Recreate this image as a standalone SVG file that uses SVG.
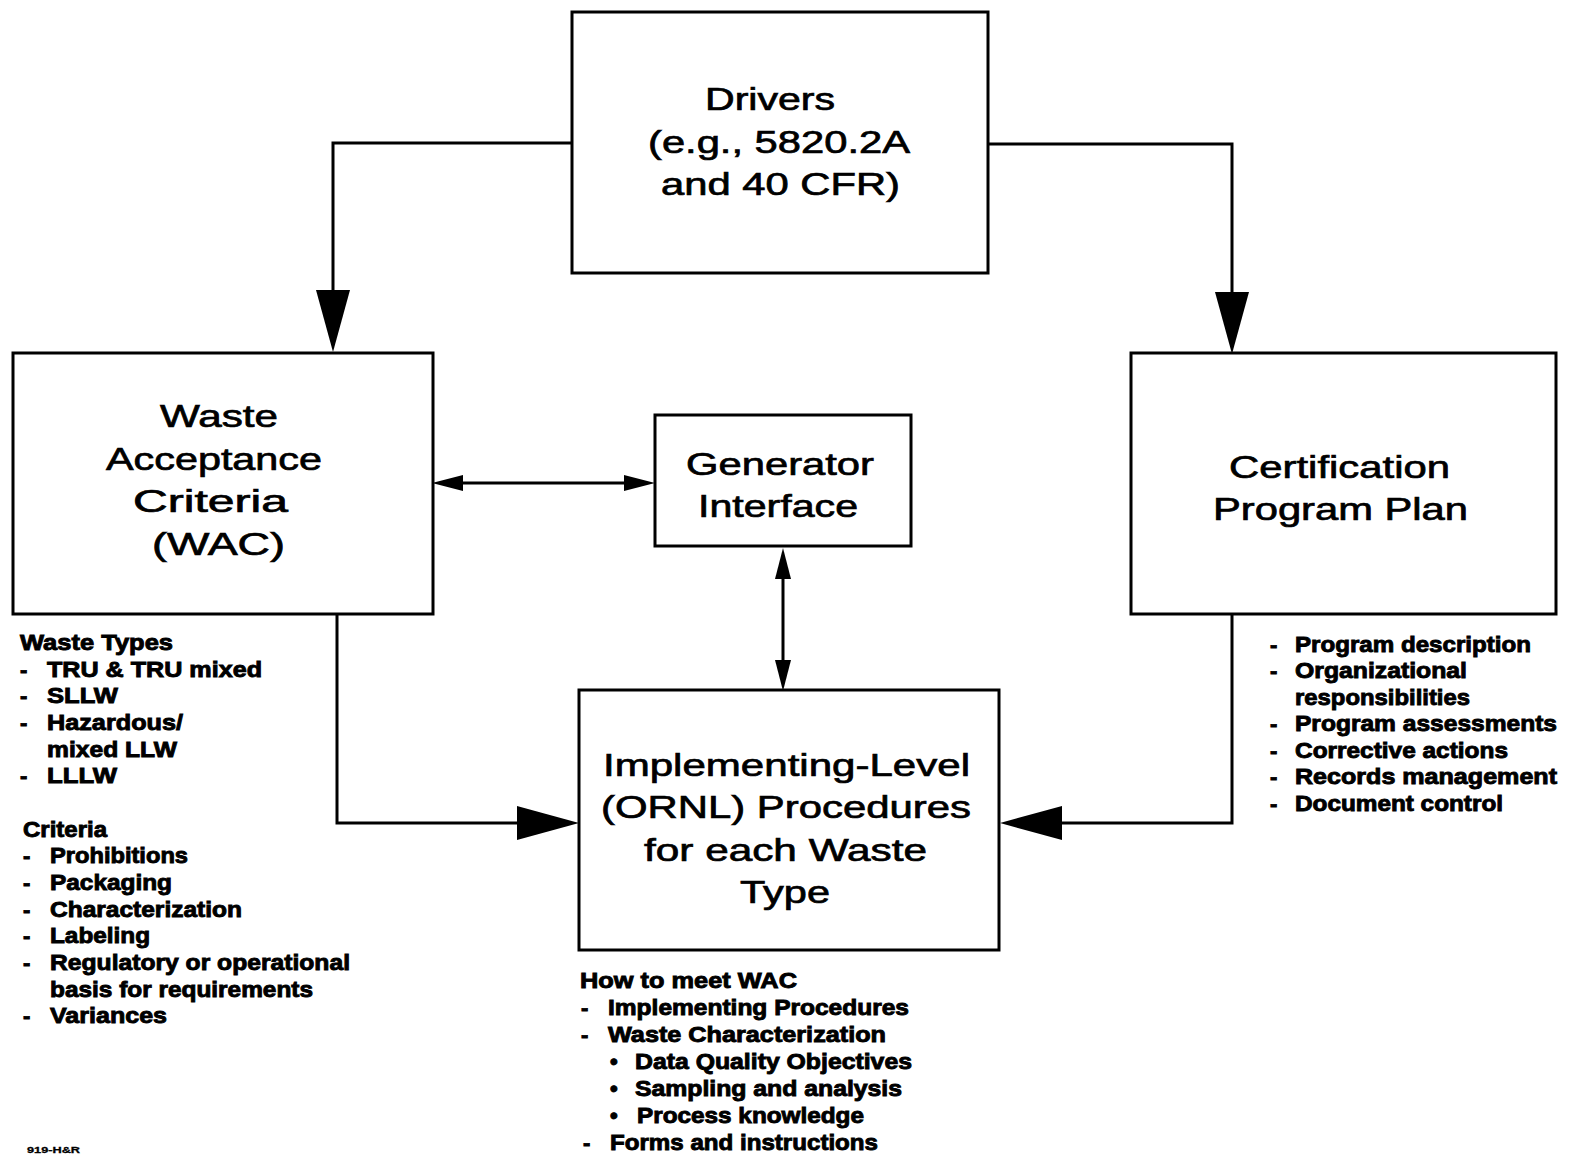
<svg xmlns="http://www.w3.org/2000/svg" width="1573" height="1158" viewBox="0 0 1573 1158">
<defs>
<style>
.box{fill:#fff;stroke:#000;stroke-width:3}
.lbl{font-family:"Liberation Sans",Arial,sans-serif;font-size:32px;fill:#000;stroke:#000;stroke-width:0.7}
.ann{font-family:"Liberation Sans",Arial,sans-serif;font-size:22px;font-weight:bold;fill:#000;stroke:#000;stroke-width:0.9}
.con{fill:none;stroke:#000;stroke-width:3}
.big{marker-end:url(#bigArrow)}
</style>
<marker id="bigArrow" markerUnits="userSpaceOnUse" markerWidth="70" markerHeight="40" refX="0" refY="17" orient="auto-start-reverse" viewBox="0 0 70 40" overflow="visible">
<path d="M0,0 L62,17 L0,34 Z" fill="#000"/>
</marker>
<marker id="smallArrow" markerUnits="userSpaceOnUse" markerWidth="36" markerHeight="20" refX="0" refY="8" orient="auto-start-reverse" viewBox="0 0 36 20" overflow="visible">
<path d="M0,0 L31,8 L0,16 Z" fill="#000"/>
</marker>
</defs>
<rect width="1573" height="1158" fill="#fff"/>

<g id="connectors">
<path class="con big" d="M572,143 H333 V290"/>
<path class="con big" d="M988,144 H1232 V292"/>
<path class="con big" d="M337,614 V823 H517"/>
<path class="con big" d="M1232,614 V823 H1062"/>
<path class="con" d="M463,483 H624" marker-start="url(#smallArrow)" marker-end="url(#smallArrow)"/>
<path class="con" d="M783,579 V660" marker-start="url(#smallArrow)" marker-end="url(#smallArrow)"/>
</g>

<g id="drivers">
<rect class="box" x="572" y="12" width="416" height="261"/>
<text class="lbl" x="705" y="110" textLength="130" lengthAdjust="spacingAndGlyphs">Drivers</text>
<text class="lbl" x="648" y="153" textLength="262" lengthAdjust="spacingAndGlyphs">(e.g., 5820.2A</text>
<text class="lbl" x="661" y="195" textLength="239" lengthAdjust="spacingAndGlyphs">and 40 CFR)</text>
</g>

<g id="wac">
<rect class="box" x="13" y="353" width="420" height="261"/>
<text class="lbl" x="160" y="427" textLength="118" lengthAdjust="spacingAndGlyphs">Waste</text>
<text class="lbl" x="106" y="470" textLength="216" lengthAdjust="spacingAndGlyphs">Acceptance</text>
<text class="lbl" x="133" y="512" textLength="155" lengthAdjust="spacingAndGlyphs">Criteria</text>
<text class="lbl" x="152" y="555" textLength="133" lengthAdjust="spacingAndGlyphs">(WAC)</text>
</g>

<g id="generator">
<rect class="box" x="655" y="415" width="256" height="131"/>
<text class="lbl" x="686" y="475" textLength="188" lengthAdjust="spacingAndGlyphs">Generator</text>
<text class="lbl" x="698" y="517" textLength="160" lengthAdjust="spacingAndGlyphs">Interface</text>
</g>

<g id="certification">
<rect class="box" x="1131" y="353" width="425" height="261"/>
<text class="lbl" x="1229" y="478" textLength="221" lengthAdjust="spacingAndGlyphs">Certification</text>
<text class="lbl" x="1213" y="520" textLength="255" lengthAdjust="spacingAndGlyphs">Program Plan</text>
</g>

<g id="implementing">
<rect class="box" x="579" y="690" width="420" height="260"/>
<text class="lbl" x="603" y="776" textLength="367" lengthAdjust="spacingAndGlyphs">Implementing-Level</text>
<text class="lbl" x="601" y="818" textLength="370" lengthAdjust="spacingAndGlyphs">(ORNL) Procedures</text>
<text class="lbl" x="644" y="861" textLength="283" lengthAdjust="spacingAndGlyphs">for each Waste</text>
<text class="lbl" x="740" y="903" textLength="90" lengthAdjust="spacingAndGlyphs">Type</text>
</g>

<g id="wac-notes">
<text class="ann" x="20" y="650" textLength="153" lengthAdjust="spacingAndGlyphs">Waste Types</text>
<text class="ann" x="20" y="677">-</text><text class="ann" x="47" y="677" textLength="215" lengthAdjust="spacingAndGlyphs">TRU &amp; TRU mixed</text>
<text class="ann" x="20" y="703">-</text><text class="ann" x="47" y="703" textLength="71" lengthAdjust="spacingAndGlyphs">SLLW</text>
<text class="ann" x="20" y="730">-</text><text class="ann" x="47" y="730" textLength="136" lengthAdjust="spacingAndGlyphs">Hazardous/</text>
<text class="ann" x="47" y="757" textLength="130" lengthAdjust="spacingAndGlyphs">mixed LLW</text>
<text class="ann" x="20" y="783">-</text><text class="ann" x="47" y="783" textLength="70" lengthAdjust="spacingAndGlyphs">LLLW</text>
<text class="ann" x="23" y="837" textLength="84" lengthAdjust="spacingAndGlyphs">Criteria</text>
<text class="ann" x="23" y="863">-</text><text class="ann" x="50" y="863" textLength="138" lengthAdjust="spacingAndGlyphs">Prohibitions</text>
<text class="ann" x="23" y="890">-</text><text class="ann" x="50" y="890" textLength="122" lengthAdjust="spacingAndGlyphs">Packaging</text>
<text class="ann" x="23" y="917">-</text><text class="ann" x="50" y="917" textLength="192" lengthAdjust="spacingAndGlyphs">Characterization</text>
<text class="ann" x="23" y="943">-</text><text class="ann" x="50" y="943" textLength="100" lengthAdjust="spacingAndGlyphs">Labeling</text>
<text class="ann" x="23" y="970">-</text><text class="ann" x="50" y="970" textLength="300" lengthAdjust="spacingAndGlyphs">Regulatory or operational</text>
<text class="ann" x="50" y="997" textLength="263" lengthAdjust="spacingAndGlyphs">basis for requirements</text>
<text class="ann" x="23" y="1023">-</text><text class="ann" x="50" y="1023" textLength="117" lengthAdjust="spacingAndGlyphs">Variances</text>
</g>

<g id="cert-notes">
<text class="ann" x="1270" y="652">-</text><text class="ann" x="1295" y="652" textLength="236" lengthAdjust="spacingAndGlyphs">Program description</text>
<text class="ann" x="1270" y="678">-</text><text class="ann" x="1295" y="678" textLength="172" lengthAdjust="spacingAndGlyphs">Organizational</text>
<text class="ann" x="1295" y="705" textLength="175" lengthAdjust="spacingAndGlyphs">responsibilities</text>
<text class="ann" x="1270" y="731">-</text><text class="ann" x="1295" y="731" textLength="262" lengthAdjust="spacingAndGlyphs">Program assessments</text>
<text class="ann" x="1270" y="758">-</text><text class="ann" x="1295" y="758" textLength="213" lengthAdjust="spacingAndGlyphs">Corrective actions</text>
<text class="ann" x="1270" y="784">-</text><text class="ann" x="1295" y="784" textLength="262" lengthAdjust="spacingAndGlyphs">Records management</text>
<text class="ann" x="1270" y="811">-</text><text class="ann" x="1295" y="811" textLength="208" lengthAdjust="spacingAndGlyphs">Document control</text>
</g>

<g id="impl-notes">
<text class="ann" x="580" y="988" textLength="217" lengthAdjust="spacingAndGlyphs">How to meet WAC</text>
<text class="ann" x="581" y="1015">-</text><text class="ann" x="608" y="1015" textLength="301" lengthAdjust="spacingAndGlyphs">Implementing Procedures</text>
<text class="ann" x="581" y="1042">-</text><text class="ann" x="608" y="1042" textLength="278" lengthAdjust="spacingAndGlyphs">Waste Characterization</text>
<text class="ann" x="610" y="1069">•</text><text class="ann" x="635" y="1069" textLength="277" lengthAdjust="spacingAndGlyphs">Data Quality Objectives</text>
<text class="ann" x="610" y="1096">•</text><text class="ann" x="635" y="1096" textLength="267" lengthAdjust="spacingAndGlyphs">Sampling and analysis</text>
<text class="ann" x="610" y="1123">•</text><text class="ann" x="637" y="1123" textLength="227" lengthAdjust="spacingAndGlyphs">Process knowledge</text>
<text class="ann" x="583" y="1150">-</text><text class="ann" x="610" y="1150" textLength="268" lengthAdjust="spacingAndGlyphs">Forms and instructions</text>
</g>

<text class="ann" x="27" y="1153" style="font-size:9px;stroke-width:0.3" textLength="53" lengthAdjust="spacingAndGlyphs">919-H&amp;R</text>
</svg>
